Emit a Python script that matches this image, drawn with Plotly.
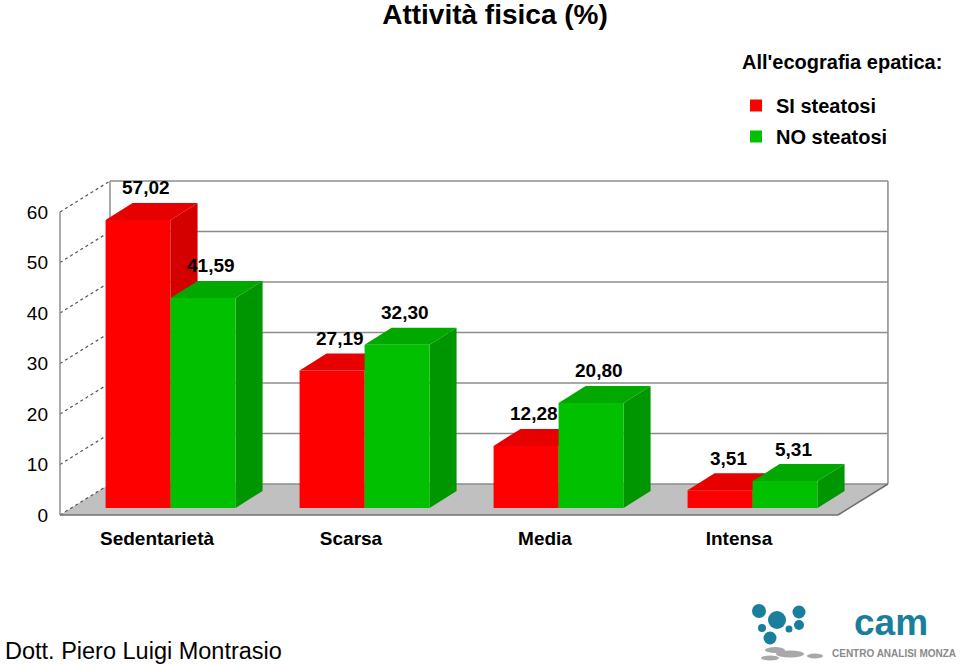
import plotly.graph_objects as go

# ---------------- data ----------------
categories = ["Sedentarietà", "Scarsa", "Media", "Intensa"]
si_steatosi = [57.02, 27.19, 12.28, 3.51]
no_steatosi = [41.59, 32.30, 20.80, 5.31]
y_ticks = [0, 10, 20, 30, 40, 50, 60]
series_names = ["SI steatosi", "NO steatosi"]

# ---------------- styling / geometry ----------------
FONT = "Liberation Sans"
W, H = 960, 664
PXU = 194.0      # px per category unit
PYU = 5.05       # px per value unit
X0PX, Y0PX = 60, 515   # pixel of front-left floor corner (x=-0.5, y=0)

XR = [-0.5 - X0PX / PXU, -0.5 + (W - X0PX) / PXU]
YR = [-(H - Y0PX) / PYU, Y0PX / PYU]

WDX, WDY = 50 / PXU, 31 / PYU      # wall depth
BX, BY = 0.07, 1.4                 # bar front-face offset
BDX, BDY = 27 / PXU, 17 / PYU      # bar depth
BW = 65 / PXU                      # bar width
XEND = 3.51
YTOP = max(y_ticks)

RED = dict(front="#FF0000", top="#E60000", side="#D40000")
GREEN = dict(front="#00C000", top="#00A800", side="#009600")
GRID = "#8C8C8C"
TEAL = "#1A7F9C"

fig = go.Figure()
shapes = []

# floor
shapes.append(dict(type="path", xref="x", yref="y", layer="below",
                   path=f"M{-0.5},{0} L{XEND},{0} L{XEND+WDX},{WDY} L{-0.5+WDX},{WDY} Z",
                   fillcolor="#C0C0C0", line=dict(width=0)))
# back wall gridlines
for t in y_ticks:
    shapes.append(dict(type="line", xref="x", yref="y", layer="below",
                       x0=-0.5 + WDX, x1=XEND + WDX, y0=t + WDY, y1=t + WDY,
                       line=dict(color=GRID, width=1.5)))
    # left wall diagonals
    shapes.append(dict(type="line", xref="x", yref="y", layer="below",
                       x0=-0.5, x1=-0.5 + WDX, y0=t, y1=t + WDY,
                       line=dict(color="#555555", width=1.2, dash="dot")))
# wall vertical edges
for xx, yy in [(-0.5, 0), (-0.5 + WDX, WDY), (XEND + WDX, WDY)]:
    shapes.append(dict(type="line", xref="x", yref="y", layer="below",
                       x0=xx, x1=xx, y0=yy, y1=yy + YTOP,
                       line=dict(color=GRID, width=1.5)))
# floor front edges
shapes.append(dict(type="line", xref="x", yref="y", layer="below",
                   x0=-0.5, x1=XEND, y0=0, y1=0, line=dict(color="#707070", width=1.5)))
shapes.append(dict(type="line", xref="x", yref="y", layer="below",
                   x0=XEND, x1=XEND + WDX, y0=0, y1=WDY, line=dict(color="#707070", width=1.5)))

annotations = []
for s_i, (vals, col, name) in enumerate([(si_steatosi, RED, series_names[0]),
                                          (no_steatosi, GREEN, series_names[1])]):
    centers = [i + BX + (s_i - 0.5) * BW for i in range(len(categories))]
    fig.add_trace(go.Bar(x=centers, y=vals, base=[BY] * len(vals), width=BW,
                         name=name, marker=dict(color=col["front"], line=dict(width=0)),
                         legendgroup=name, hoverinfo="skip"))

# 3D faces: per group, red first then green
for i in range(len(categories)):
    for s_i, (vals, col) in enumerate([(si_steatosi, RED), (no_steatosi, GREEN)]):
        c = i + BX + (s_i - 0.5) * BW
        xl, xr = c - BW / 2, c + BW / 2
        top = BY + vals[i]
        shapes.append(dict(type="path", xref="x", yref="y", layer="below",
                           path=f"M{xl},{top} L{xr},{top} L{xr+BDX},{top+BDY} L{xl+BDX},{top+BDY} Z",
                           fillcolor=col["top"], line=dict(width=0)))
        shapes.append(dict(type="path", xref="x", yref="y", layer="below",
                           path=f"M{xr},{BY} L{xr+BDX},{BY+BDY} L{xr+BDX},{top+BDY} L{xr},{top} Z",
                           fillcolor=col["side"], line=dict(width=0)))
        annotations.append(dict(x=c + BDX * 0.3, y=top + BDY, xref="x", yref="y",
                                text=f"{vals[i]:.2f}".replace(".", ","), showarrow=False,
                                yanchor="middle", yshift=15,
                                font=dict(family=FONT, size=19, color="black", weight="bold")))

# legend title
annotations.append(dict(x=740 / W, y=1 - 62 / H, xref="paper", yref="paper",
                        xanchor="left", yanchor="middle", showarrow=False,
                        text="All'ecografia epatica:",
                        font=dict(family=FONT, size=20, color="black", weight="bold")))
# footer
annotations.append(dict(x=3 / W, y=1 - 651 / H, xref="paper", yref="paper",
                        xanchor="left", yanchor="middle", showarrow=False,
                        text="Dott. Piero Luigi Montrasio",
                        font=dict(family=FONT, size=23.5, color="black")))
# logo text
annotations.append(dict(x=891 / W, y=1 - 622 / H, xref="paper", yref="paper",
                        xanchor="center", yanchor="middle", showarrow=False,
                        text="cam", font=dict(family=FONT, size=37, color=TEAL, weight="bold")))
annotations.append(dict(x=958 / W, y=1 - 653 / H, xref="paper", yref="paper",
                        xanchor="right", yanchor="middle", showarrow=False,
                        text="CENTRO ANALISI MONZA",
                        font=dict(family=FONT, size=10, color="#8A8A8A", weight="bold")))
# logo molecule (decoration)
for cx, cy, r in [(777, 620, 9), (759, 611, 7), (799, 612, 6.5), (762, 628, 4),
                  (799, 625, 5), (789, 629, 3.5), (770, 638, 6.5)]:
    shapes.append(dict(type="circle", xref="paper", yref="paper",
                       x0=(cx - r) / W, x1=(cx + r) / W, y0=1 - (cy + r) / H, y1=1 - (cy - r) / H,
                       fillcolor=TEAL, line=dict(width=0)))
for cx, cy, rx, ry in [(775, 650, 10, 3), (790, 654, 14, 3.5), (770, 658, 9, 2.5), (815, 656, 8, 2.5)]:
    shapes.append(dict(type="circle", xref="paper", yref="paper",
                       x0=(cx - rx) / W, x1=(cx + rx) / W, y0=1 - (cy + ry) / H, y1=1 - (cy - ry) / H,
                       fillcolor="#A8A8A8", line=dict(width=0)))

fig.update_layout(
    width=W, height=H,
    margin=dict(l=0, r=0, t=0, b=0),
    paper_bgcolor="white", plot_bgcolor="white",
    barmode="overlay",
    title=dict(text="Attività fisica (%)", x=495 / W, xanchor="center",
               y=1 - 14 / H, yanchor="middle",
               font=dict(family=FONT, size=28, color="black", weight="bold")),
    xaxis=dict(range=XR, showgrid=False, zeroline=False, showline=False,
               anchor="free", position=(H - Y0PX) / H,
               tickmode="array", tickvals=list(range(len(categories))), ticktext=categories,
               ticklabelstandoff=10,
               tickfont=dict(family=FONT, size=19, color="black", weight="bold"),
               fixedrange=True),
    yaxis=dict(range=YR, showgrid=False, zeroline=False, showline=False,
               anchor="free", position=X0PX / W,
               tickmode="array", tickvals=y_ticks, ticklabelstandoff=12,
               tickfont=dict(family=FONT, size=19, color="black"),
               fixedrange=True),
    showlegend=True,
    legend=dict(x=736 / W, y=1 - 86 / H, xanchor="left", yanchor="top",
                font=dict(family=FONT, size=20, color="black", weight="bold"),
                traceorder="grouped", tracegroupgap=2, bgcolor="rgba(0,0,0,0)"),
    shapes=shapes,
    annotations=annotations,
)

fig.write_html("out.html", config={"displayModeBar": False},
               post_script="document.body.style.margin='0';document.body.style.overflow='hidden';")
